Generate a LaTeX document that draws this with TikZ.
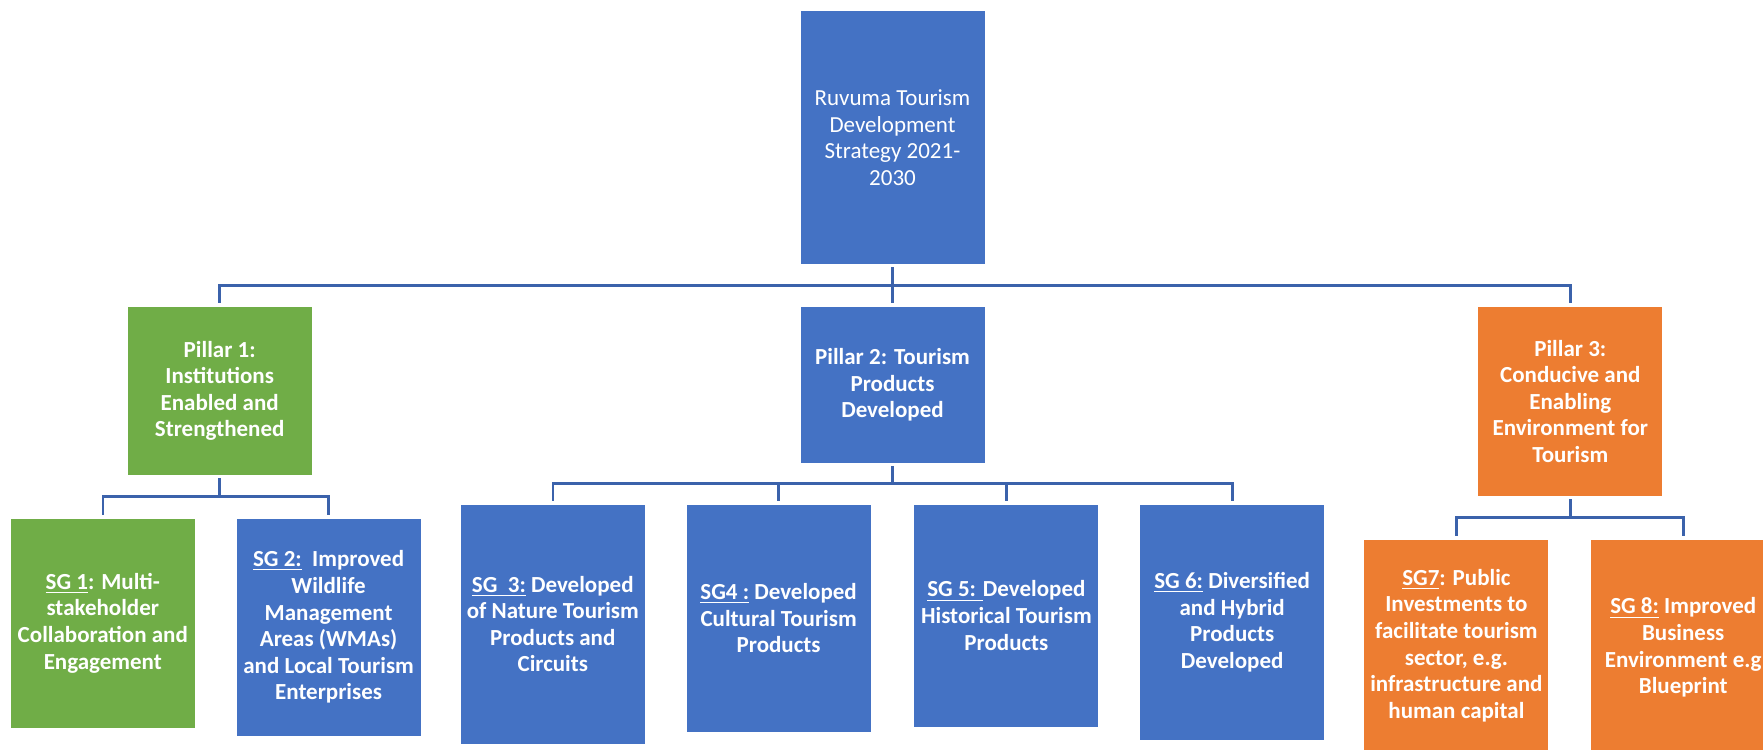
\documentclass[tikz,border=0pt]{standalone}
\usepackage{fontspec}
\setmainfont{Carlito}
\usepackage{tikz}
\usetikzlibrary{positioning}
\definecolor{blu}{HTML}{4472C4}
\definecolor{grn}{HTML}{70AD47}
\definecolor{org}{HTML}{ED7D31}
\definecolor{lnk}{HTML}{3B62AB}
\tikzset{
  box/.style={rectangle,draw=none,minimum width=92pt,inner xsep=-4pt,inner ysep=2pt,align=center,text=white,font=\fontsize{11.5}{13.3}\selectfont\bfseries},
  bbox/.style={box,fill=blu},
  gbox/.style={box,fill=grn},
  obox/.style={box,fill=org},
  link/.style={draw=lnk,line width=1.3pt,shorten <=1.5pt,shorten >=1.5pt},
}
\begin{document}
\begin{tikzpicture}[node distance=21pt]
\useasboundingbox[fill=white] (0,0) rectangle (881.5pt,-375pt);
% top and pillars
\node[bbox,minimum height=126.5pt,font=\fontsize{11.5}{13.3}\selectfont] (root) at (446.25pt,-68.75pt) {Ruvuma Tourism\\Development\\Strategy 2021-\\2030};
\node[bbox,below=of root,minimum height=78pt] (p2) {Pillar 2: Tourism\\Products\\Developed};
\node[gbox,below left=21pt and 244pt of root,minimum height=84pt] (p1) {Pillar 1:\\Institutions\\Enabled and\\Strengthened};
\node[obox,below right=21pt and 246.5pt of root,minimum height=94.5pt] (p3) {Pillar 3:\\Conducive and\\Enabling\\Environment for\\Tourism};
% goals of pillar 1
\node[gbox,below left=21.5pt and 12.25pt of p1.south,minimum height=104.5pt] (sg1) {\underline{SG 1}: Multi-\\stakeholder\\Collaboration and\\Engagement};
\node[bbox,right=20.5pt of sg1.north east,anchor=north west,minimum height=108.5pt] (sg2) {\underline{SG 2:}\ \ Improved\\Wildlife\\Management\\Areas (WMAs)\\and Local Tourism\\Enterprises};
% goals of pillar 2
\node[bbox,below left=20.5pt and 10.75pt of p2.south,minimum height=113.5pt] (sg4) {\underline{SG4 :} Developed\\Cultural Tourism\\Products};
\node[bbox,left=20.5pt of sg4.north west,anchor=north east,minimum height=119.5pt] (sg3) {\underline{SG\ \ 3:} Developed\\of Nature Tourism\\Products and\\Circuits};
\node[bbox,right=21.5pt of sg4.north east,anchor=north west,minimum height=111pt] (sg5) {\underline{SG 5: }Developed\\Historical Tourism\\Products};
\node[bbox,right=20.5pt of sg5.north east,anchor=north west,minimum height=117.5pt] (sg6) {\underline{SG 6:} Diversified\\and Hybrid\\Products\\Developed};
% goals of pillar 3
\node[obox,below left=21.5pt and 10.75pt of p3.south,minimum height=106pt] (sg7) {\underline{SG7}: Public\\Investments to\\facilitate tourism\\sector, e.g.\\infrastructure and\\human capital};
\node[obox,right=21pt of sg7.north east,anchor=north west,minimum height=108pt] (sg8) {\underline{SG 8:} Improved\\Business\\Environment e.g\\Blueprint};
% connectors
\foreach \c in {p1,p2,p3} \draw[link] (root.south) -- ++(0,-10.5pt) -| (\c.north);
\foreach \c in {sg1,sg2} \draw[link] (p1.south) -- ++(0,-10.75pt) -| (\c.north);
\foreach \c in {sg3,sg4,sg5,sg6} \draw[link] (p2.south) -- ++(0,-10.25pt) -| (\c.north);
\foreach \c in {sg7,sg8} \draw[link] (p3.south) -- ++(0,-10.75pt) -| (\c.north);
\end{tikzpicture}
\end{document}
